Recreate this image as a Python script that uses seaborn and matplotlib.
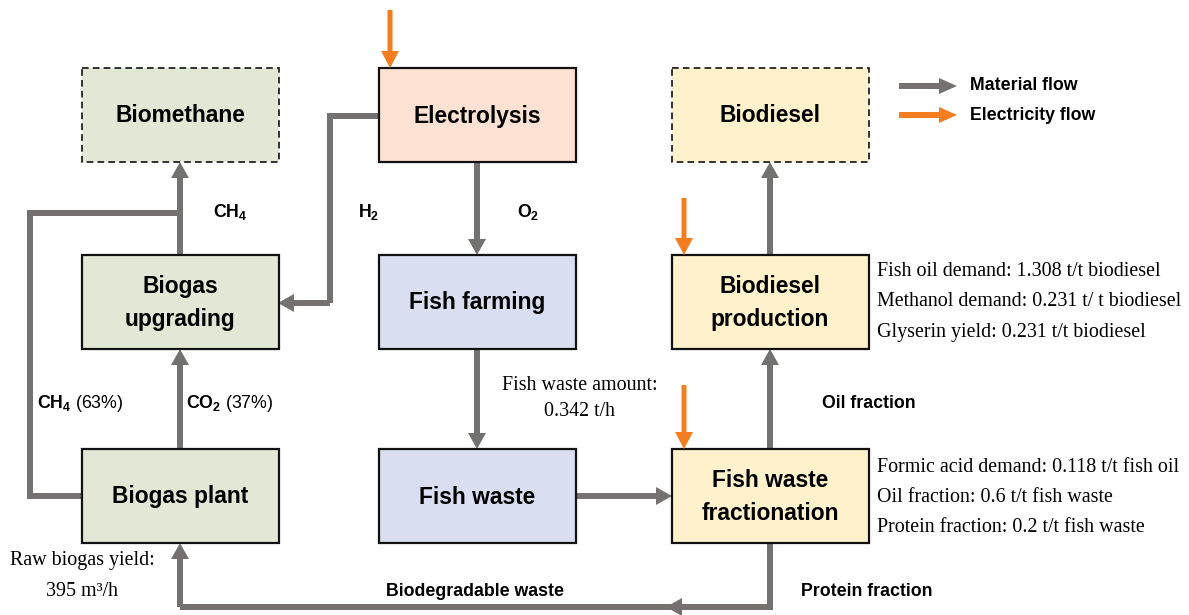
import matplotlib
matplotlib.use('Agg')
import matplotlib.pyplot as plt
import seaborn as sns
from matplotlib.patches import Rectangle

# node labels (3 columns x 3 rows)
nodes = ['Biomethane', 'Electrolysis', 'Biodiesel',
         'Biogas\nupgrading', 'Fish farming', 'Biodiesel\nproduction',
         'Biogas plant', 'Fish waste', 'Fish waste\nfractionation']
node_group = ['gas', 'elec', 'diesel',
              'gas', 'fish', 'diesel',
              'gas', 'fish', 'diesel']
node_dashed = [True, False, True,
               False, False, False,
               False, False, False]

# process numbers written next to boxes
biodiesel_notes = ['Fish oil demand: 1.308 t/t biodiesel',
                   'Methanol demand: 0.231 t/ t biodiesel',
                   'Glyserin yield: 0.231 t/t biodiesel']
fraction_notes = ['Formic acid demand: 0.118 t/t fish oil',
                  'Oil fraction: 0.6 t/t fish waste',
                  'Protein fraction: 0.2 t/t fish waste']
fish_waste_note = ['Fish waste amount:', '0.342 t/h']
biogas_note = ['Raw biogas yield:', '395 m\u00b3/h']
legend_labels = ['Material flow', 'Electricity flow']

sns.set_style('white')
plt.rcParams['font.family'] = ['Liberation Sans', 'DejaVu Sans']
plt.rcParams['text.color'] = 'black'
plt.rcParams['mathtext.fontset'] = 'custom'
plt.rcParams['mathtext.rm'] = 'Liberation Sans'
plt.rcParams['mathtext.bf'] = 'Liberation Sans:bold'

fills = {'gas': '#e2e8d5', 'elec': '#fde2d3', 'diesel': '#fff1cb', 'fish': '#d9dff0'}
grey = '#767171'
orange = '#f47d20'

fig = plt.figure(figsize=(11.89, 6.15), dpi=100)
ax = fig.add_axes([0, 0, 1, 1])
ax.set_xlim(0, 1189)
ax.set_ylim(615, 0)
ax.axis('off')

# layout in pixels
col_x = [180, 477, 770]
row_y = [115, 302, 496]
bw, bh = 197, 94

for i, name in enumerate(nodes):
    cx = col_x[i % 3]
    cy = row_y[i // 3]
    ls = (0, (4, 2.5)) if node_dashed[i] else '-'
    lw = 1.2 if node_dashed[i] else 1.6
    ax.add_patch(Rectangle((cx - bw / 2, cy - bh / 2), bw, bh, facecolor=fills[node_group[i]],
                           edgecolor='#111111', lw=lw, linestyle=ls, zorder=2))
    ax.text(cx, cy + 1, name, ha='center', va='center', fontsize=16.4, fontweight='bold',
            linespacing=1.6, zorder=3)


def path(pts, color=grey, w=6, head=True, hw=18, hl=16):
    xs = [p[0] for p in pts]
    ys = [p[1] for p in pts]
    if head:
        ax.plot(xs[:-1], ys[:-1], color=color, lw=w * 0.72, solid_joinstyle='miter',
                solid_capstyle='butt', zorder=1)
        x0, y0 = pts[-2]
        x1, y1 = pts[-1]
        ax.arrow(x0, y0, x1 - x0, y1 - y0, width=w, head_width=hw, head_length=hl,
                 length_includes_head=True, color=color, lw=0, zorder=1)
    else:
        ax.plot(xs, ys, color=color, lw=w * 0.72, solid_joinstyle='miter',
                solid_capstyle='butt', zorder=1)


# material flows
path([(180, 255), (180, 162)])
path([(180, 213), (30, 213), (30, 496), (81, 496)], head=False)
path([(180, 449), (180, 349)])
path([(378, 116), (330, 116), (330, 303), (278, 303)])
path([(477, 162), (477, 255)])
path([(477, 349), (477, 449)])
path([(575, 496), (672, 496)])
path([(770, 449), (770, 349)])
path([(770, 255), (770, 162)])
path([(770, 543), (770, 607), (180, 607), (180, 543)])
ax.arrow(690, 607, -24, 0, width=6, head_width=18, head_length=16,
         length_includes_head=True, color=grey, lw=0, zorder=1)

# electricity flows
for x, y0, y1 in [(390, 10, 68), (684, 198, 255), (684, 385, 449)]:
    ax.arrow(x, y0, 0, y1 - y0, width=5, head_width=18, head_length=17,
             length_includes_head=True, color=orange, lw=0, zorder=4)

# legend
for y, c, lab in [(86, grey, legend_labels[0]), (115, orange, legend_labels[1])]:
    ax.arrow(899, y, 58, 0, width=6, head_width=16, head_length=18,
             length_includes_head=True, color=c, lw=0)
    ax.text(970, y, lab, ha='left', va='center', fontsize=12.8, fontweight='bold')

# stream labels
bold_kw = dict(ha='left', va='center', fontsize=12.8)
ax.text(213, 212, r'$\mathbf{CH_4}$', **bold_kw)
ax.text(358, 212, r'$\mathbf{H_2}$', **bold_kw)
ax.text(517, 212, r'$\mathbf{O_2}$', **bold_kw)
ax.text(37, 403, r'$\mathbf{CH_4}$ (63%)', **bold_kw)
ax.text(186, 403, r'$\mathbf{CO_2}$ (37%)', **bold_kw)
ax.text(822, 403, 'Oil fraction', fontweight='bold', **bold_kw)
ax.text(801, 591, 'Protein fraction', fontweight='bold', **bold_kw)
ax.text(475, 591, 'Biodegradable waste', ha='center', va='center', fontsize=12.8,
        fontweight='bold')

# process numbers (serif)
serif_kw = dict(va='center', fontsize=14.4, family='Liberation Serif')
for k, s in enumerate(biodiesel_notes):
    ax.text(877, 272 + 30 * k, s, ha='left', **serif_kw)
for k, s in enumerate(fraction_notes):
    ax.text(877, 467 + 30 * k, s, ha='left', **serif_kw)
ax.text(580, 386, fish_waste_note[0], ha='center', **serif_kw)
ax.text(580, 411, fish_waste_note[1], ha='center', **serif_kw)
ax.text(82, 560, biogas_note[0], ha='center', **serif_kw)
ax.text(82, 591, biogas_note[1], ha='center', **serif_kw)

fig.savefig('out.png', dpi=100, facecolor='white')
